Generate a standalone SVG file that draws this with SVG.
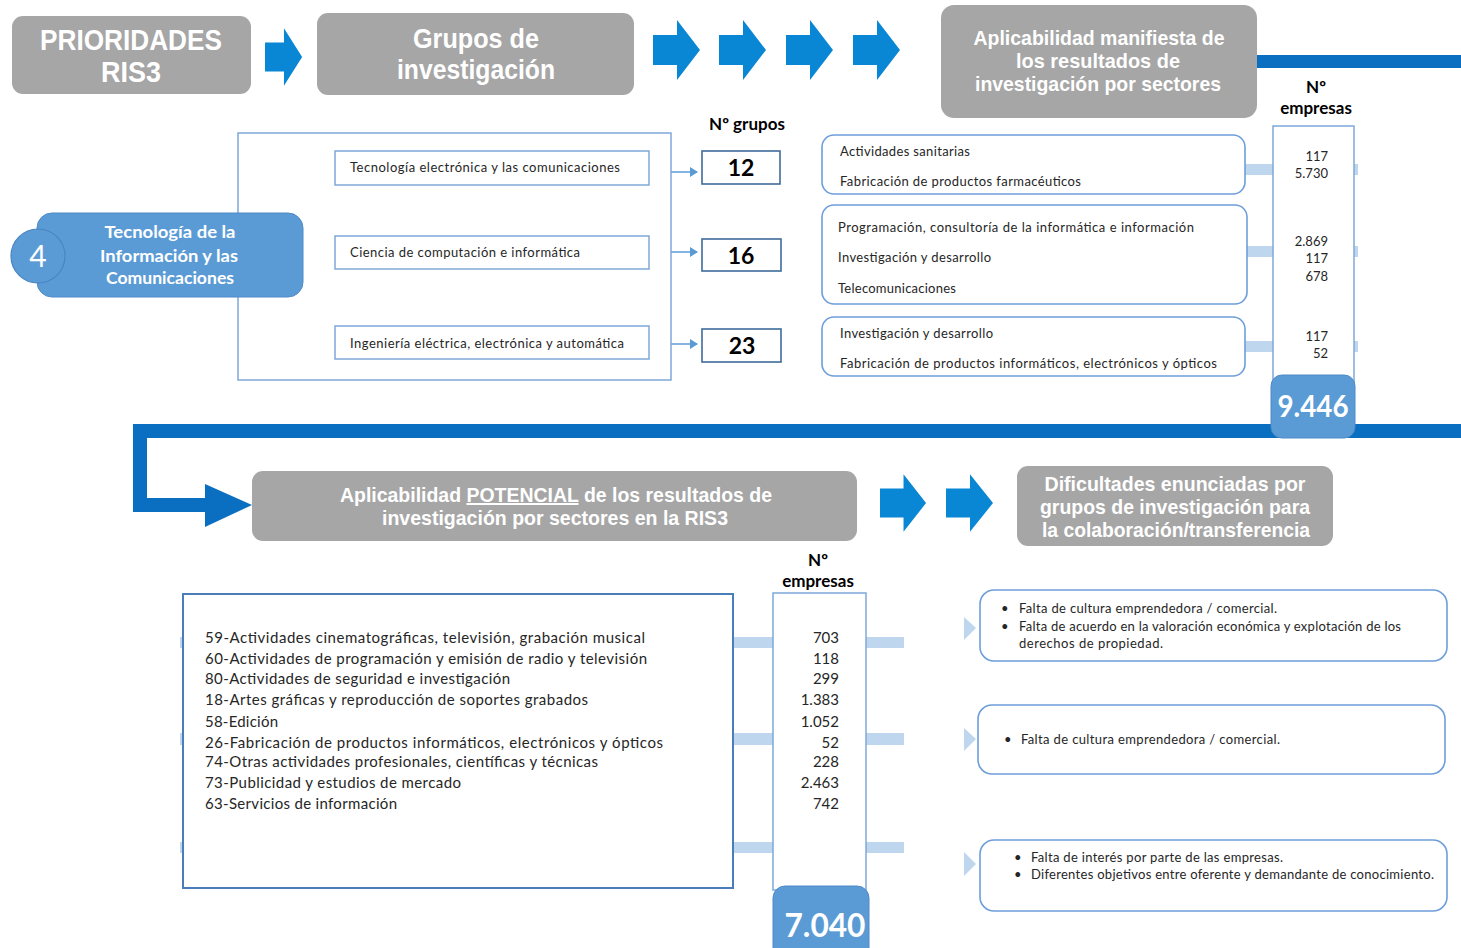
<svg xmlns="http://www.w3.org/2000/svg" xmlns:xlink="http://www.w3.org/1999/xlink" width="1461" height="948" viewBox="0 0 1461 948">
<style>
.gray{fill:#a6a6a6}
.hd{font-family:"Liberation Sans",Arial,sans-serif;font-weight:bold;fill:#fff;text-anchor:middle}
.blk{fill:#0a87d4}
.band{fill:none;stroke:#0a6fc0;stroke-width:14}
.bandf{fill:#0a6fc0}
.lt{fill:#bed6ee}
.ob{fill:#fff;stroke:#7fa8d9;stroke-width:1.5}
.rb{fill:#fff;stroke:#6d9eda;stroke-width:1.6}
.nb{fill:#fff;stroke:#3f6b9a;stroke-width:1.6}
.t{font-family:Lato,"Liberation Sans",sans-serif;fill:#262626}
.s13{font-size:13px}
.s15{font-size:15px}
.num{font-family:Lato,"Liberation Sans",sans-serif;fill:#262626;text-anchor:end}
.lbl{font-family:Lato,"Liberation Sans",sans-serif;font-weight:bold;font-size:17px;fill:#000;text-anchor:middle}
.big{font-family:Lato,"Liberation Sans",sans-serif;font-weight:bold;fill:#fff;text-anchor:middle}
.cnt{font-family:Lato,"Liberation Sans",sans-serif;font-weight:bold;font-size:23px;fill:#000;text-anchor:middle}
.conn{stroke:#5b9bd5;stroke-width:1.6;fill:none}
</style>
<defs>
<path id="barrow" d="M0,-15 H24 V-30 L47,0 L24,30 V15 H0 Z"/>
<marker id="ah" markerWidth="8" markerHeight="10" refX="7" refY="5" orient="auto" markerUnits="userSpaceOnUse">
<path d="M0,0 L8,5 L0,10 Z" fill="#5b9bd5"/>
</marker>
</defs>
<rect width="1461" height="948" fill="#fff"/>

<g id="connectors">
<rect x="1257" y="55" width="204" height="13" class="bandf"/>
<path class="band" d="M1461,431 H140 V505 H210"/>
<polygon class="bandf" points="205,484 252,505 205,527"/>
<use xlink:href="#barrow" class="blk" transform="translate(265,57) scale(0.79,0.96)"/>
<use xlink:href="#barrow" class="blk" transform="translate(653,50)"/>
<use xlink:href="#barrow" class="blk" transform="translate(719,50)"/>
<use xlink:href="#barrow" class="blk" transform="translate(786,50)"/>
<use xlink:href="#barrow" class="blk" transform="translate(853,50)"/>
<use xlink:href="#barrow" class="blk" transform="translate(880,503) scale(0.98,0.96)"/>
<use xlink:href="#barrow" class="blk" transform="translate(946,503) scale(1,0.96)"/>
<line class="conn" x1="651" y1="172" x2="697" y2="172" marker-end="url(#ah)"/>
<line class="conn" x1="650" y1="252" x2="697" y2="252" marker-end="url(#ah)"/>
<line class="conn" x1="650" y1="344" x2="697" y2="344" marker-end="url(#ah)"/>
<rect class="lt" x="1244" y="164" width="30" height="11"/>
<rect class="lt" x="1246" y="246" width="28" height="11"/>
<rect class="lt" x="1244" y="341" width="30" height="11"/>
<rect class="lt" x="1354" y="164" width="4" height="11"/>
<rect class="lt" x="1354" y="246" width="4" height="11"/>
<rect class="lt" x="1354" y="341" width="4" height="11"/>
<rect class="lt" x="180" y="637" width="4" height="11"/>
<rect class="lt" x="180" y="733" width="4" height="12"/>
<rect class="lt" x="180" y="842" width="4" height="11"/>
<rect class="lt" x="733" y="637" width="41" height="11"/>
<rect class="lt" x="733" y="733" width="41" height="12"/>
<rect class="lt" x="733" y="842" width="41" height="11"/>
<rect class="lt" x="866" y="637" width="38" height="11"/>
<rect class="lt" x="866" y="733" width="38" height="12"/>
<rect class="lt" x="866" y="842" width="38" height="11"/>
<polygon class="lt" points="964,617 976,628 964,640"/>
<polygon class="lt" points="964,728 976,739 964,751"/>
<polygon class="lt" points="964,852 976,864 964,876"/>
</g>

<g id="prioridades">
<rect class="gray" x="12" y="16" width="239" height="78" rx="11"/>
<text class="hd" font-size="29" x="131" y="50" textLength="182" lengthAdjust="spacingAndGlyphs">PRIORIDADES</text>
<text class="hd" font-size="29" x="131" y="82" textLength="60" lengthAdjust="spacingAndGlyphs">RIS3</text>
</g>

<g id="grupos">
<rect class="gray" x="317" y="13" width="317" height="82" rx="11"/>
<text class="hd" font-size="28" x="476" y="48" textLength="126" lengthAdjust="spacingAndGlyphs">Grupos de</text>
<text class="hd" font-size="28" x="476" y="79" textLength="158" lengthAdjust="spacingAndGlyphs">investigación</text>
</g>

<g id="aplicabilidad-manifiesta">
<rect class="gray" x="941" y="5" width="316" height="113" rx="13"/>
<text class="hd" font-size="21" x="1099" y="45" textLength="251" lengthAdjust="spacingAndGlyphs">Aplicabilidad  manifiesta de</text>
<text class="hd" font-size="21" x="1098" y="68" textLength="164" lengthAdjust="spacingAndGlyphs">los resultados de</text>
<text class="hd" font-size="21" x="1098" y="91" textLength="246" lengthAdjust="spacingAndGlyphs">investigación  por sectores</text>
</g>

<g id="ngrupos-label">
<text class="lbl" x="747" y="130">Nº grupos</text>
</g>
<g id="nempresas-label-top">
<text class="lbl" x="1316" y="93">Nº</text>
<text class="lbl" x="1316" y="114">empresas</text>
</g>

<g id="grupo-box">
<rect class="ob" x="238" y="133" width="433" height="247"/>
</g>

<g id="tic">
<rect x="37" y="213" width="266" height="84" rx="15" fill="#5b9bd5" stroke="#4f8ac8" stroke-width="1"/>
<text class="big" font-size="17" x="170" y="238" textLength="131" lengthAdjust="spacingAndGlyphs">Tecnología de la</text>
<text class="big" font-size="17" x="169" y="262" textLength="138" lengthAdjust="spacingAndGlyphs">Información y las</text>
<text class="big" font-size="17" x="170" y="284" textLength="128" lengthAdjust="spacingAndGlyphs">Comunicaciones</text>
</g>
<g id="num4">
<circle cx="38" cy="256" r="27" fill="#5b9bd5" stroke="#4a84c2" stroke-width="1.2"/>
<text x="38" y="267" font-family="Lato,'Liberation Sans',sans-serif" font-size="30" fill="#fff" text-anchor="middle">4</text>
</g>

<g id="area1">
<rect class="ob" x="335" y="151" width="314" height="34"/>
<text class="t s13" x="350" y="172" textLength="270">Tecnología electrónica  y las comunicaciones</text>
</g>
<g id="area2">
<rect class="ob" x="335" y="236" width="314" height="33"/>
<text class="t s13" x="350" y="257" textLength="230">Ciencia de computación e informática</text>
</g>
<g id="area3">
<rect class="ob" x="335" y="326" width="314" height="33"/>
<text class="t s13" x="350" y="348" textLength="274">Ingeniería eléctrica, electrónica  y automática</text>
</g>

<g id="n12">
<rect class="nb" x="702" y="151" width="78" height="33"/>
<text class="cnt" x="741" y="176">12</text>
</g>
<g id="n16">
<rect class="nb" x="702" y="239" width="79" height="32"/>
<text class="cnt" x="741" y="264">16</text>
</g>
<g id="n23">
<rect class="nb" x="702" y="329" width="79" height="33"/>
<text class="cnt" x="742" y="354">23</text>
</g>

<g id="sector1">
<rect class="rb" x="822" y="135" width="423" height="59" rx="12"/>
<text class="t s13" x="840" y="156" textLength="130">Actividades  sanitarias</text>
<text class="t s13" x="840" y="186" textLength="241">Fabricación  de productos farmacéuticos</text>
</g>
<g id="sector2">
<rect class="rb" x="822" y="205" width="425" height="99" rx="12"/>
<text class="t s13" x="838" y="232" textLength="356">Programación,  consultoría de la informática  e información</text>
<text class="t s13" x="838" y="262" textLength="153">Investigación  y desarrollo</text>
<text class="t s13" x="838" y="293" textLength="118">Telecomunicaciones</text>
</g>
<g id="sector3">
<rect class="rb" x="822" y="317" width="423" height="59" rx="12"/>
<text class="t s13" x="840" y="338" textLength="153">Investigación  y desarrollo</text>
<text class="t s13" x="840" y="368" textLength="377">Fabricación  de productos informáticos,  electrónicos  y ópticos</text>
</g>

<g id="empresas-top">
<rect class="ob" x="1273" y="126" width="81" height="262" stroke="#8db3e2"/>
<text class="num s13" x="1328" y="161">117</text>
<text class="num s13" x="1328" y="178">5.730</text>
<text class="num s13" x="1328" y="246">2.869</text>
<text class="num s13" x="1328" y="263">117</text>
<text class="num s13" x="1328" y="281">678</text>
<text class="num s13" x="1328" y="341">117</text>
<text class="num s13" x="1328" y="358">52</text>
</g>
<g id="total-top">
<rect x="1271" y="375" width="84" height="63" rx="11" fill="#5b9bd5" stroke="#4f8ac8" stroke-width="1"/>
<text class="big" font-size="30" x="1313" y="417" textLength="71" lengthAdjust="spacingAndGlyphs">9.446</text>
</g>

<g id="aplicabilidad-potencial">
<rect class="gray" x="252" y="471" width="605" height="70" rx="11"/>
<text class="hd" font-size="20" x="556" y="502" textLength="432" lengthAdjust="spacingAndGlyphs">Aplicabilidad  <tspan style="text-decoration:underline">POTENCIAL</tspan> de los resultados de</text>
<text class="hd" font-size="20" x="555" y="525" textLength="346" lengthAdjust="spacingAndGlyphs">investigación  por sectores en la RIS3</text>
</g>

<g id="dificultades">
<rect class="gray" x="1017" y="466" width="316" height="80" rx="11"/>
<text class="hd" font-size="21" x="1175" y="491" textLength="261" lengthAdjust="spacingAndGlyphs">Dificultades  enunciadas  por</text>
<text class="hd" font-size="21" x="1175" y="514" textLength="270" lengthAdjust="spacingAndGlyphs">grupos de investigación  para</text>
<text class="hd" font-size="21" x="1176" y="537" textLength="268" lengthAdjust="spacingAndGlyphs">la colaboración/transferencia</text>
</g>

<g id="nempresas-label-bottom">
<text class="lbl" x="818" y="566">Nº</text>
<text class="lbl" x="818" y="587">empresas</text>
</g>

<g id="sectores-ris3">
<rect x="183" y="594" width="550" height="294" fill="#fff" stroke="#4a7ebb" stroke-width="2"/>
<text class="t s15" x="205" y="643" textLength="440">59-Actividades  cinematográficas,  televisión,  grabación  musical</text>
<text class="t s15" x="205" y="664" textLength="442">60-Actividades  de programación  y emisión de radio y televisión</text>
<text class="t s15" x="205" y="684" textLength="305">80-Actividades  de seguridad  e investigación</text>
<text class="t s15" x="205" y="705" textLength="383">18-Artes gráficas  y reproducción  de soportes grabados</text>
<text class="t s15" x="205" y="727" textLength="73">58-Edición</text>
<text class="t s15" x="205" y="748" textLength="458">26-Fabricación  de productos informáticos, electrónicos  y ópticos</text>
<text class="t s15" x="205" y="767" textLength="393">74-Otras actividades  profesionales,  científicas y técnicas</text>
<text class="t s15" x="205" y="788" textLength="256">73-Publicidad y estudios de mercado</text>
<text class="t s15" x="205" y="809" textLength="192">63-Servicios  de información</text>
</g>

<g id="empresas-bottom">
<rect class="ob" x="773" y="593" width="93" height="297" stroke="#6d9eda"/>
<text class="num s15" x="839" y="643">703</text>
<text class="num s15" x="839" y="664">118</text>
<text class="num s15" x="839" y="684">299</text>
<text class="num s15" x="839" y="705">1.383</text>
<text class="num s15" x="839" y="727">1.052</text>
<text class="num s15" x="839" y="748">52</text>
<text class="num s15" x="839" y="767">228</text>
<text class="num s15" x="839" y="788">2.463</text>
<text class="num s15" x="839" y="809">742</text>
</g>
<g id="total-bottom">
<rect x="773" y="886" width="96" height="75" rx="12" fill="#5b9bd5" stroke="#4f8ac8" stroke-width="1"/>
<text class="big" font-size="33" x="825" y="937" textLength="81" lengthAdjust="spacingAndGlyphs">7.040</text>
</g>

<g id="dificultad1">
<rect class="rb" x="980" y="590" width="467" height="71" rx="14" stroke-width="2"/>
<text class="t s13" x="1001" y="613">•</text>
<text class="t s13" x="1019" y="613" textLength="258">Falta de cultura emprendedora / comercial.</text>
<text class="t s13" x="1001" y="631">•</text>
<text class="t s13" x="1019" y="631" textLength="382">Falta de acuerdo en la valoración económica y explotación de los</text>
<text class="t s13" x="1019" y="648" textLength="144">derechos de propiedad.</text>
</g>
<g id="dificultad2">
<rect class="rb" x="978" y="705" width="467" height="69" rx="14" stroke-width="2"/>
<text class="t s13" x="1004" y="744">•</text>
<text class="t s13" x="1021" y="744" textLength="259">Falta de cultura emprendedora / comercial.</text>
</g>
<g id="dificultad3">
<rect class="rb" x="980" y="840" width="467" height="71" rx="14" stroke-width="2"/>
<text class="t s13" x="1014" y="862">•</text>
<text class="t s13" x="1031" y="862" textLength="252">Falta de interés por parte de las empresas.</text>
<text class="t s13" x="1014" y="879">•</text>
<text class="t s13" x="1031" y="879" textLength="403">Diferentes objetivos entre oferente y demandante de conocimiento.</text>
</g>
</svg>
